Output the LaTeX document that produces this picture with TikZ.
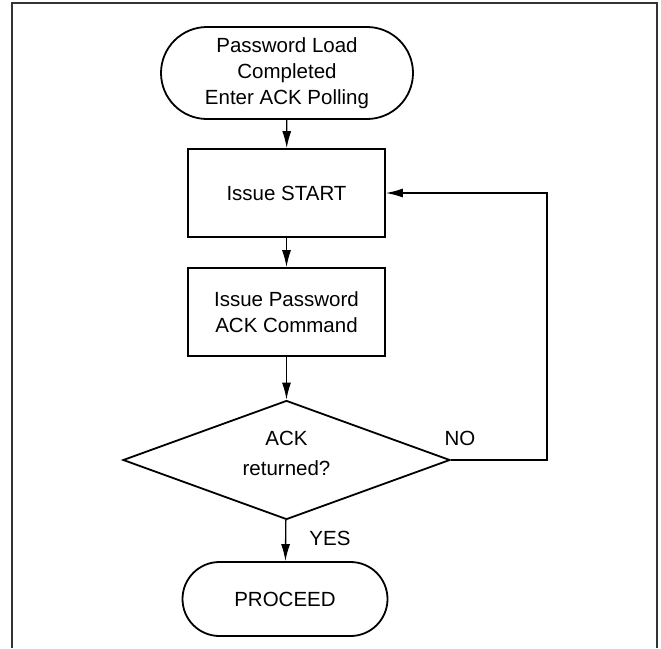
\documentclass[tikz,border=0pt]{standalone}
\usepackage{fontspec}
\setmainfont{Liberation Sans}
\usetikzlibrary{shapes.geometric,shapes.misc,arrows.meta}
\tikzset{
  flow/.style={draw, line width=1.8pt, inner sep=0pt, align=center,
    font=\fontsize{20.5}{26}\selectfont},
  termbox/.style={flow, rounded rectangle, rounded rectangle arc length=180},
  stepbox/.style={flow, rectangle, minimum width=197pt, minimum height=88pt},
  testbox/.style={flow, diamond, minimum width=327pt, minimum height=119pt},
  link/.style={line width=1.3pt, -{Latex[length=17pt,width=9pt]}},
  tag/.style={font=\fontsize{20.5}{26}\selectfont}
}
\begin{document}
\begin{tikzpicture}[x=1pt,y=-1pt]
                \useasboundingbox (0,0) rectangle (661,648);
                \draw[line width=1.6pt, black!80] (12,648)--(12,3)--(657,3)--(657,648);
                \node[termbox, minimum width=252pt, minimum height=92pt] (start) at (287,73) {Password Load\\Completed\\Enter ACK Polling};
                \node[stepbox] (issue) at (286.5,193) {Issue START};
                \node[stepbox] (pwd) at (286.5,312) {Issue Password\\ACK Command};
                \node[testbox, label={[tag, align=center, yshift=7pt]center:ACK\\[4pt]returned?}] (ack) at (286.5,460) {};
                \node[termbox, minimum width=205pt, minimum height=74pt] (proceed) at (285,599) {PROCEED};
                \node[tag] (no) at (460,438) {NO};
                \node[tag] (yes) at (330,538) {YES};
                \draw[link] (start) -- (issue);
                \draw[link] (issue) -- (pwd);
                \draw[link] (pwd) -- (ack);
                \draw[link] (ack) -- (proceed);
                \draw[link] (ack.east) -- ++(96,0) |- (issue.east);
                \end{tikzpicture}
\end{document}
